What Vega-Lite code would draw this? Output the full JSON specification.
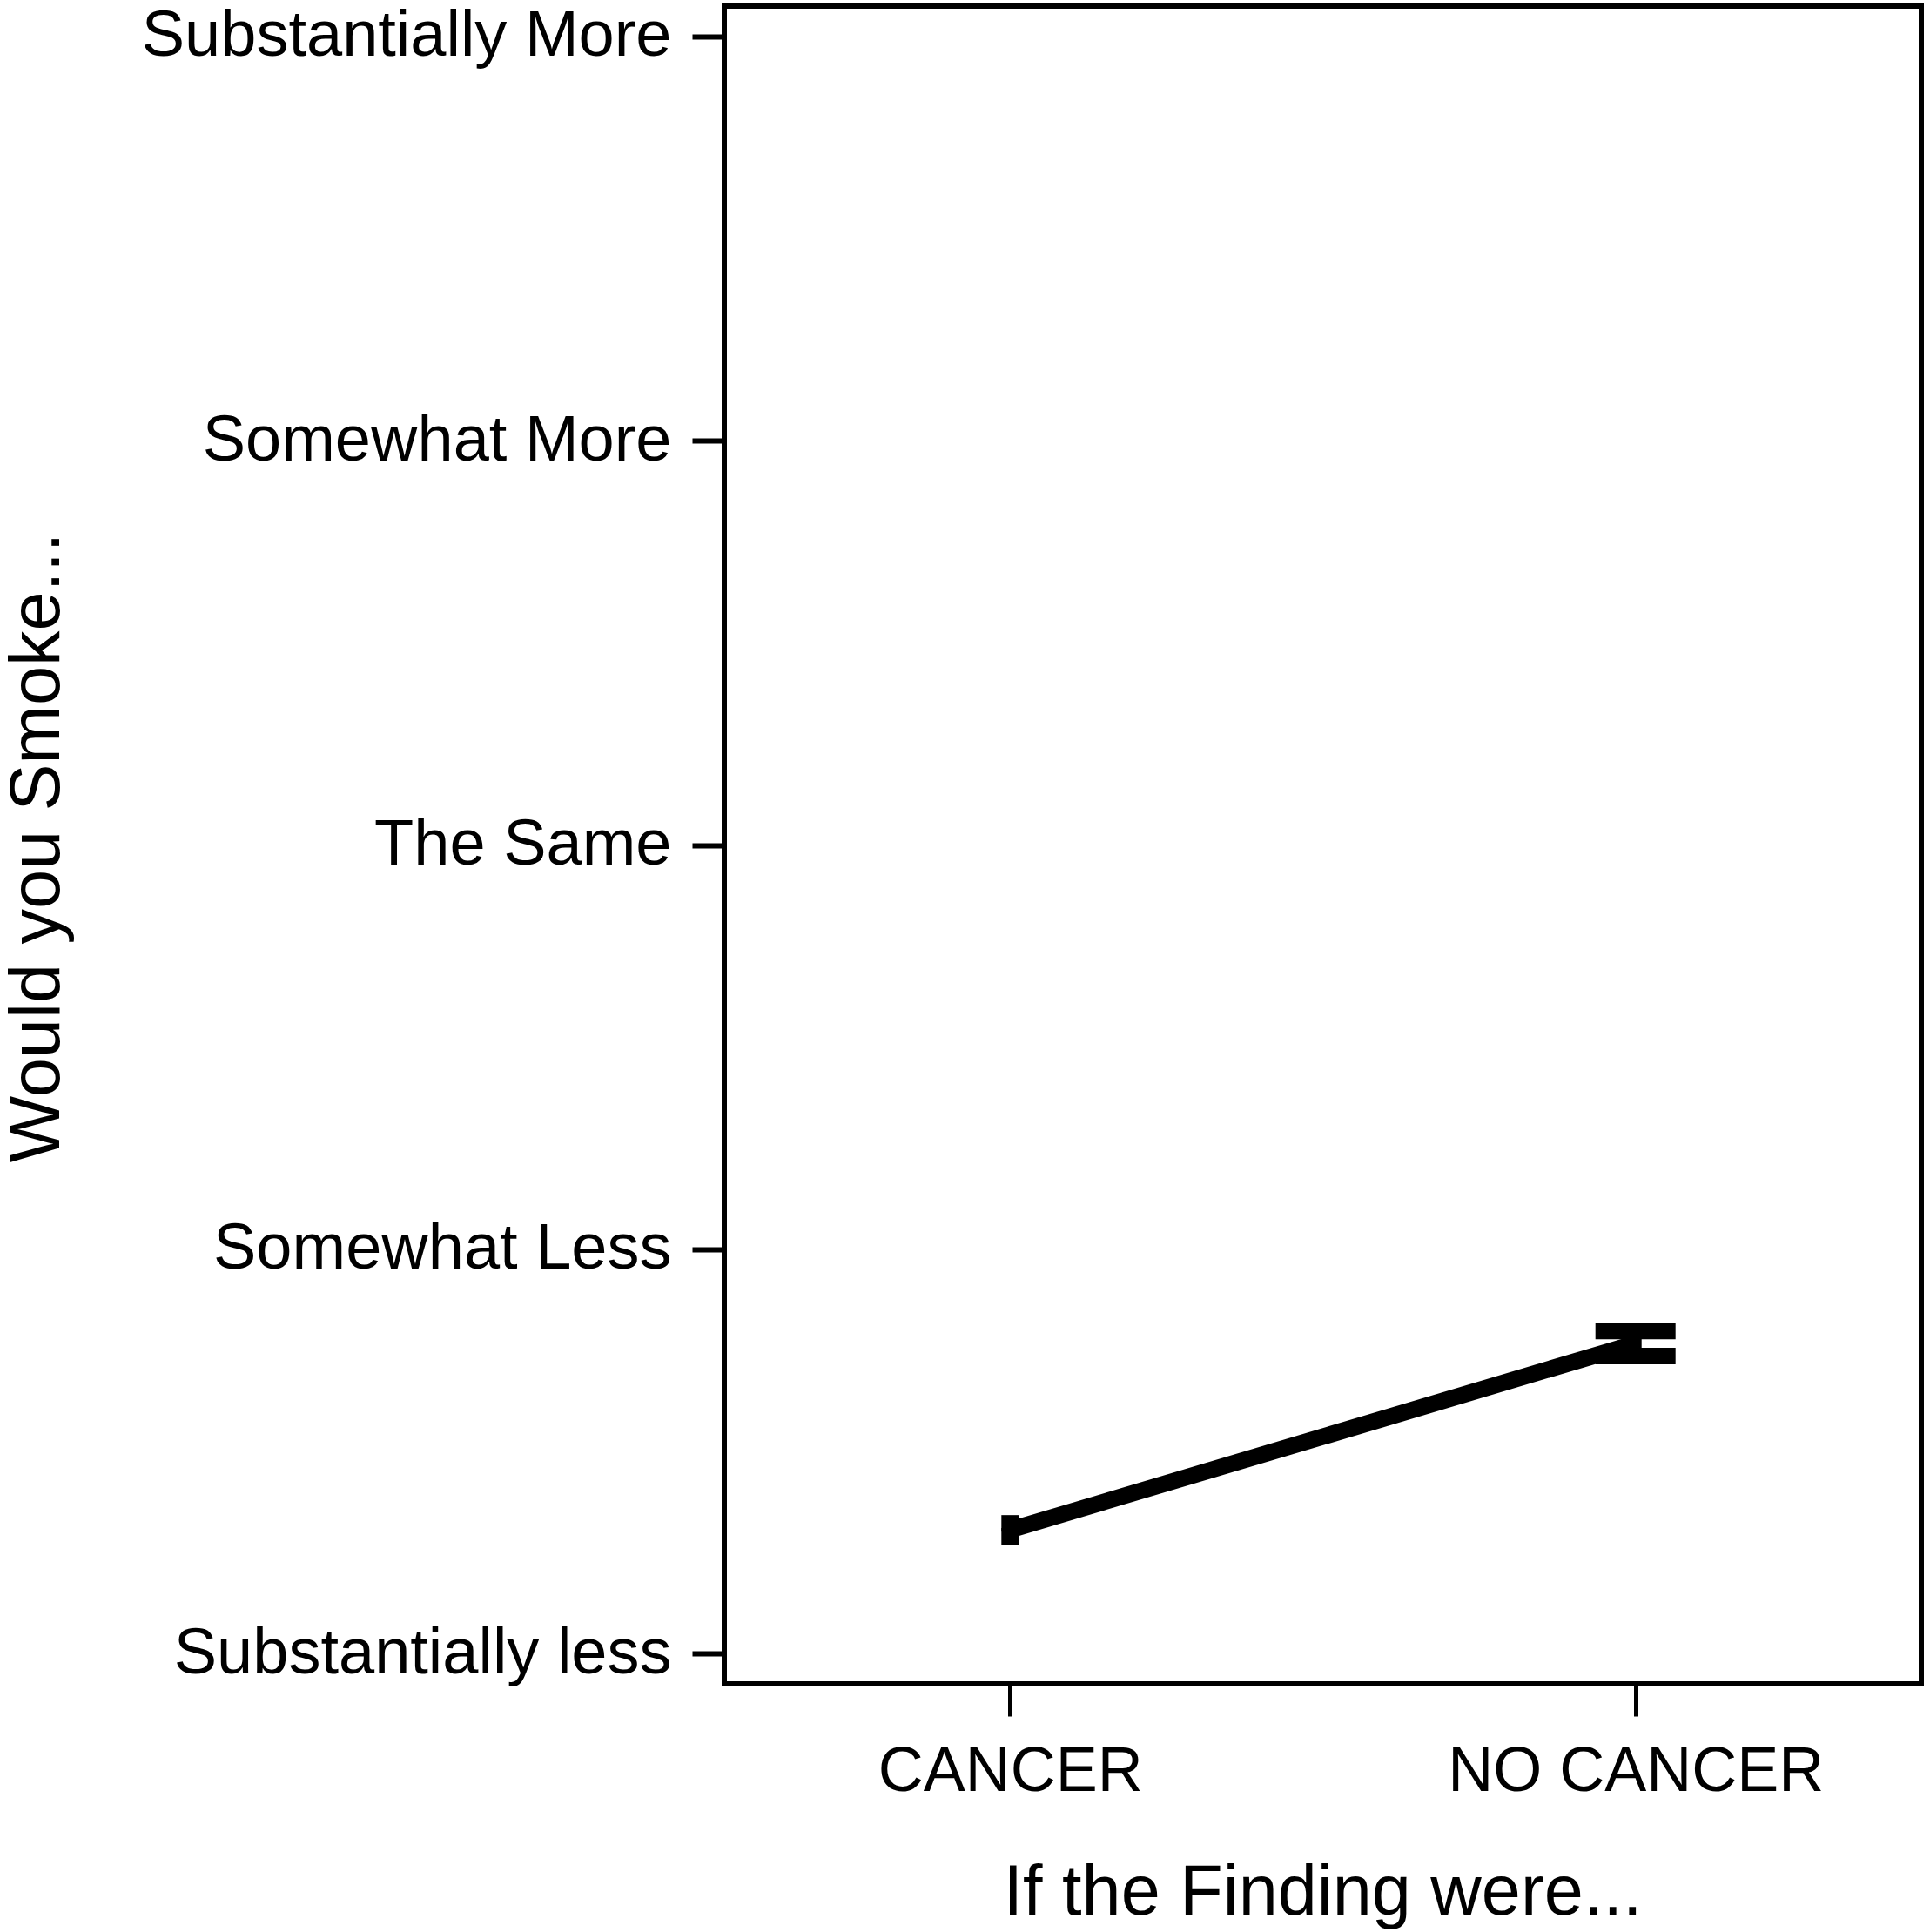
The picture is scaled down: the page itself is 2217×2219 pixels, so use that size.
{
  "$schema": "https://vega.github.io/schema/vega-lite/v6.json",
  "autosize": "none",
  "width": 1375,
  "height": 1927,
  "padding": {"left": 832, "top": 7, "right": 10, "bottom": 285},
  "background": "white",
  "config": {
    "view": {"stroke": "black", "strokeWidth": 6},
    "axis": {
      "domain": false,
      "grid": false,
      "labelFont": "Liberation Sans",
      "labelFontSize": 72,
      "labelColor": "black",
      "labelLimit": 0,
      "titleFont": "Liberation Sans",
      "titleFontSize": 81,
      "titleFontWeight": "normal",
      "titleColor": "black",
      "tickColor": "black"
    }
  },
  "data": {
    "values": [
      {"finding": "CANCER", "mean": 1.306, "lo": 1.29, "hi": 1.322},
      {"finding": "NO CANCER", "mean": 1.767, "lo": 1.736, "hi": 1.798}
    ]
  },
  "encoding": {
    "x": {
      "field": "finding",
      "type": "ordinal",
      "sort": ["CANCER", "NO CANCER"],
      "scale": {"type": "point", "padding": 0.457},
      "axis": {
        "title": "If the Finding were...",
        "labelAngle": 0,
        "tickSize": 37,
        "tickWidth": 5,
        "labelPadding": 28,
        "titleX": 687,
        "titleY": 264,
        "titleAlign": "center",
        "titleBaseline": "alphabetic"
      }
    }
  },
  "layer": [
    {
      "mark": {"type": "line", "color": "black", "strokeWidth": 19, "strokeCap": "butt"},
      "encoding": {
        "y": {
          "field": "mean",
          "type": "quantitative",
          "scale": {"domain": [0.925, 5.075], "nice": false, "zero": false},
          "axis": {
            "title": "Would you Smoke...",
            "values": [1, 2, 3, 4, 5],
            "labelExpr": "datum.value == 1 ? 'Substantially less' : datum.value == 2 ? 'Somewhat Less' : datum.value == 3 ? 'The Same' : datum.value == 4 ? 'Somewhat More' : 'Substantially More'",
            "labelFontSize": 74,
            "tickSize": 37,
            "tickWidth": 6,
            "labelPadding": 24,
            "titleAngle": -90,
            "titleX": -765,
            "titleY": 966,
            "titleAlign": "center",
            "titleBaseline": "alphabetic"
          }
        }
      }
    },
    {
      "mark": {"type": "rule", "color": "black", "strokeWidth": 14},
      "encoding": {
        "y": {"field": "lo", "type": "quantitative"},
        "y2": {"field": "hi"}
      }
    },
    {
      "transform": [{"filter": "datum.finding == 'NO CANCER'"}],
      "layer": [
        {
          "mark": {"type": "tick", "color": "black", "size": 92, "thickness": 19, "opacity": 1},
          "encoding": {"y": {"field": "lo", "type": "quantitative"}}
        },
        {
          "mark": {"type": "tick", "color": "black", "size": 92, "thickness": 19, "opacity": 1},
          "encoding": {"y": {"field": "hi", "type": "quantitative"}}
        }
      ]
    },
    {
      "transform": [{"filter": "datum.finding == 'CANCER'"}],
      "layer": [
        {
          "mark": {"type": "tick", "color": "black", "size": 20, "thickness": 19, "opacity": 1},
          "encoding": {"y": {"field": "lo", "type": "quantitative"}}
        },
        {
          "mark": {"type": "tick", "color": "black", "size": 20, "thickness": 19, "opacity": 1},
          "encoding": {"y": {"field": "hi", "type": "quantitative"}}
        }
      ]
    }
  ]
}
